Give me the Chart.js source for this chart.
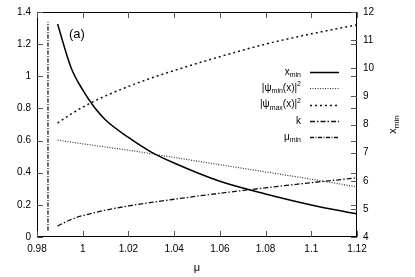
<!DOCTYPE html>
<html>
<head>
<meta charset="utf-8">
<script src="https://cdn.jsdelivr.net/npm/chart.js@4.4.0/dist/chart.umd.min.js"></script>
<style>
  html, body { margin: 0; padding: 0; background: #fff; }
  canvas { display: block; }
</style>
</head>
<body>
<canvas id="muChart" width="415" height="277"></canvas>
<script>
// values
const mu = [0.989, 0.995, 1.0, 1.005, 1.01, 1.02, 1.03, 1.04, 1.06, 1.08, 1.10, 1.12];
const xMin = [11.57, 10.0, 9.23, 8.62, 8.16, 7.54, 7.02, 6.63, 5.98, 5.53, 5.14, 4.82];
const psiMin2 = [0.604, 0.59, 0.58, 0.57, 0.56, 0.54, 0.518, 0.495, 0.45, 0.405, 0.36, 0.312];
const psiMax2 = [0.709, 0.766, 0.808, 0.845, 0.878, 0.937, 0.989, 1.036, 1.122, 1.20, 1.264, 1.32];
const kVals = [0.068, 0.11, 0.133, 0.151, 0.167, 0.193, 0.215, 0.235, 0.272, 0.306, 0.338, 0.368];
const muMin = 0.9848;
const muMinSpan = [0.04, 1.34];

const xTicks = [0.98, 1.0, 1.02, 1.04, 1.06, 1.08, 1.1, 1.12];
const yLeftTicks = [0, 0.2, 0.4, 0.6, 0.8, 1.0, 1.2, 1.4];
const yRightTicks = [4, 5, 6, 7, 8, 9, 10, 11, 12];

const FONT = 'Liberation Sans';
Chart.defaults.font.family = FONT;
Chart.defaults.font.size = 10;
Chart.defaults.color = '#000';

function pts(ys) {
    return mu.map((m, i) => ({ x: m, y: ys[i] }));
}

// text with sub/superscripts: parts = [[text, 0 normal | 1 sub | 2 sup], ...]
function richWidth(ctx, parts, size) {
    let w = 0;
    parts.forEach(([t, m]) => {
        ctx.font = (m ? Math.round(size * 0.72) : size) + 'px "' + FONT + '"';
        w += ctx.measureText(t).width;
    });
    return w;
}
function drawRich(ctx, parts, x, y, size, align) {
    const w = richWidth(ctx, parts, size);
    let cx = align === 'right' ? x - w : align === 'center' ? x - w / 2 : x;
    ctx.textAlign = 'left';
    ctx.textBaseline = 'middle';
    parts.forEach(([t, m]) => {
        ctx.font = (m ? Math.round(size * 0.72) : size) + 'px "' + FONT + '"';
        const dy = m === 1 ? size * 0.32 : m === 2 ? -size * 0.38 : 0;
        ctx.fillText(t, cx, y + dy);
        cx += ctx.measureText(t).width;
    });
}

const legendItems = [
    { parts: [['x', 0], ['min', 1]], ds: 0 },
    { parts: [['|ψ', 0], ['min', 1], ['(x)|', 0], ['2', 2]], ds: 1 },
    { parts: [['|ψ', 0], ['max', 1], ['(x)|', 0], ['2', 2]], ds: 2 },
    { parts: [['k', 0]], ds: 3 },
    { parts: [['μ', 0], ['min', 1]], ds: 4 }
];

const overlay = {
    id: 'overlay',
    afterDatasetsDraw(chart) {
        const { ctx, chartArea: a, scales } = chart;
        ctx.save();
        // frame
        ctx.strokeStyle = '#000';
        ctx.lineWidth = 1;
        ctx.strokeRect(a.left + 0.5, a.top + 0.5, a.right - a.left - 1, a.bottom - a.top - 1);

        // inward tick marks (mirrored like gnuplot)
        ctx.strokeStyle = '#555';
        ctx.beginPath();
        scales.x.ticks.forEach(t => {
            const p = Math.round(scales.x.getPixelForValue(t.value)) + 0.5;
            ctx.moveTo(p, a.bottom); ctx.lineTo(p, a.bottom - 6);
            ctx.moveTo(p, a.top); ctx.lineTo(p, a.top + 6);
        });
        scales.y.ticks.forEach(t => {
            const p = Math.round(scales.y.getPixelForValue(t.value)) + 0.5;
            ctx.moveTo(a.left, p); ctx.lineTo(a.left + 6, p);
            ctx.moveTo(a.right, p); ctx.lineTo(a.right - 6, p);
        });
        scales.y2.ticks.forEach(t => {
            const p = Math.round(scales.y2.getPixelForValue(t.value)) + 0.5;
            ctx.moveTo(a.right, p); ctx.lineTo(a.right - 6, p);
        });
        ctx.stroke();

        // legend
        ctx.fillStyle = '#000';
        legendItems.forEach((it, i) => {
            const y = 72 + i * 16.3;
            drawRich(ctx, it.parts, 301, y, 10, 'right');
            const ds = chart.data.datasets[it.ds];
            ctx.strokeStyle = ds.borderColor;
            ctx.lineWidth = ds.borderWidth;
            ctx.setLineDash(ds.borderDash || []);
            ctx.beginPath();
            ctx.moveTo(310, Math.round(y) + 0.5);
            ctx.lineTo(339, Math.round(y) + 0.5);
            ctx.stroke();
        });
        ctx.setLineDash([]);

        // panel label and axis titles
        ctx.font = '13px "' + FONT + '"';
        ctx.textAlign = 'left';
        ctx.textBaseline = 'middle';
        ctx.fillText('(a)', 69, 34);
        ctx.font = '11px "' + FONT + '"';
        ctx.textAlign = 'center';
        ctx.fillText('μ', (a.left + a.right) / 2, 268);
        ctx.translate(393, (a.top + a.bottom) / 2);
        ctx.rotate(-Math.PI / 2);
        drawRich(ctx, [['x', 0], ['min', 1]], 0, 0, 11, 'center');
        ctx.restore();
    }
};

const noGrid = { display: false, drawTicks: false };

const muChart = new Chart(document.getElementById('muChart').getContext('2d'), {
    type: 'line',
    data: {
        datasets: [
            {
                label: 'x_min',
                data: pts(xMin),
                yAxisID: 'y2',
                borderColor: '#000',
                borderWidth: 1.5,
                cubicInterpolationMode: 'monotone'
            },
            {
                label: '|ψ_min(x)|^2',
                data: pts(psiMin2),
                yAxisID: 'y',
                borderColor: '#333',
                borderWidth: 1.2,
                borderDash: [1, 1.5],
                cubicInterpolationMode: 'monotone'
            },
            {
                label: '|ψ_max(x)|^2',
                data: pts(psiMax2),
                yAxisID: 'y',
                borderColor: '#111',
                borderWidth: 1.5,
                borderDash: [2, 3],
                cubicInterpolationMode: 'monotone'
            },
            {
                label: 'k',
                data: pts(kVals),
                yAxisID: 'y',
                borderColor: '#111',
                borderWidth: 1.3,
                borderDash: [5, 2, 1.5, 2],
                cubicInterpolationMode: 'monotone'
            },
            {
                label: 'μ_min',
                data: muMinSpan.map(v => ({ x: muMin, y: v })),
                yAxisID: 'y',
                borderColor: '#111',
                borderWidth: 1.3,
                borderDash: [4, 1.5, 1, 1.5]
            }
        ]
    },
    options: {
        responsive: false,
        animation: false,
        devicePixelRatio: 1,
        layout: { padding: { top: 12, left: 0, right: 0, bottom: 0 } },
        elements: { point: { radius: 0 }, line: { tension: 0 } },
        plugins: { legend: { display: false }, tooltip: { enabled: false } },
        scales: {
            x: {
                type: 'linear',
                min: 0.98,
                max: 1.12,
                grid: noGrid,
                border: { display: false },
                afterBuildTicks: s => { s.ticks = xTicks.map(v => ({ value: v })); },
                afterFit: s => { s.height = 40; },
                ticks: { padding: 6, maxRotation: 0, callback: v => String(+v.toFixed(2)) }
            },
            y: {
                position: 'left',
                min: 0,
                max: 1.4,
                grid: noGrid,
                border: { display: false },
                afterBuildTicks: s => { s.ticks = yLeftTicks.map(v => ({ value: v })); },
                afterFit: s => { s.width = 37; },
                ticks: { padding: 6, callback: v => String(+v.toFixed(1)) }
            },
            y2: {
                position: 'right',
                min: 4,
                max: 12,
                grid: noGrid,
                border: { display: false },
                afterBuildTicks: s => { s.ticks = yRightTicks.map(v => ({ value: v })); },
                afterFit: s => { s.width = 58; },
                ticks: { padding: 6, callback: v => String(v) }
            }
        }
    },
    plugins: [overlay]
});
</script>
</body>
</html>
